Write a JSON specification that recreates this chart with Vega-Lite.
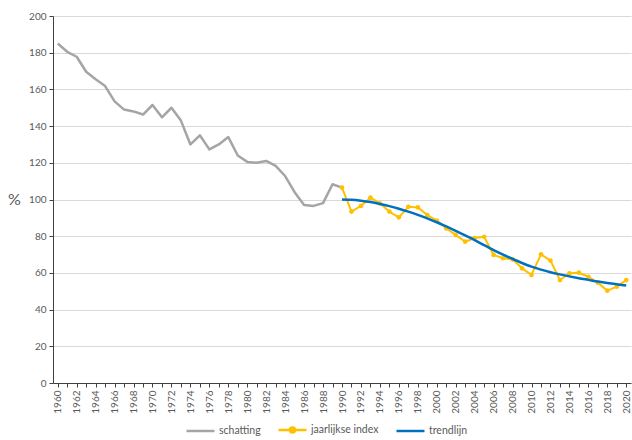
{
  "$schema": "https://vega.github.io/schema/vega-lite/v6.json",
  "width": 578,
  "height": 367,
  "autosize": "none",
  "padding": {"left": 53, "top": 16, "right": 1, "bottom": 57},
  "background": "white",
  "config": {
    "view": {"stroke": null},
    "font": "Lato",
    "axis": {"labelFont": "Lato", "titleFont": "Lato", "labelColor": "#595959", "titleColor": "#595959", "domainColor": "#404040", "tickColor": "#404040"}
  },
  "datasets": {
    "schatting": [
      {"jaar": 1960, "waarde": 185}, {"jaar": 1961, "waarde": 180.5}, {"jaar": 1962, "waarde": 177.8}, {"jaar": 1963, "waarde": 169.6},
      {"jaar": 1964, "waarde": 165.5}, {"jaar": 1965, "waarde": 161.8}, {"jaar": 1966, "waarde": 153.5}, {"jaar": 1967, "waarde": 149},
      {"jaar": 1968, "waarde": 148}, {"jaar": 1969, "waarde": 146.3}, {"jaar": 1970, "waarde": 151.5}, {"jaar": 1971, "waarde": 144.8},
      {"jaar": 1972, "waarde": 150}, {"jaar": 1973, "waarde": 143}, {"jaar": 1974, "waarde": 130}, {"jaar": 1975, "waarde": 135},
      {"jaar": 1976, "waarde": 127.3}, {"jaar": 1977, "waarde": 130}, {"jaar": 1978, "waarde": 134}, {"jaar": 1979, "waarde": 124},
      {"jaar": 1980, "waarde": 120.5}, {"jaar": 1981, "waarde": 120}, {"jaar": 1982, "waarde": 121}, {"jaar": 1983, "waarde": 118.3},
      {"jaar": 1984, "waarde": 112.8}, {"jaar": 1985, "waarde": 104}, {"jaar": 1986, "waarde": 97}, {"jaar": 1987, "waarde": 96.5},
      {"jaar": 1988, "waarde": 98}, {"jaar": 1989, "waarde": 108.3}, {"jaar": 1990, "waarde": 106.5}
    ],
    "index": [
      {"jaar": 1990, "waarde": 106.5}, {"jaar": 1991, "waarde": 93.4}, {"jaar": 1992, "waarde": 96.5}, {"jaar": 1993, "waarde": 101},
      {"jaar": 1994, "waarde": 97.9}, {"jaar": 1995, "waarde": 93.4}, {"jaar": 1996, "waarde": 90.3}, {"jaar": 1997, "waarde": 96},
      {"jaar": 1998, "waarde": 95.7}, {"jaar": 1999, "waarde": 91.5}, {"jaar": 2000, "waarde": 88.5}, {"jaar": 2001, "waarde": 84.3},
      {"jaar": 2002, "waarde": 80.7}, {"jaar": 2003, "waarde": 77}, {"jaar": 2004, "waarde": 79}, {"jaar": 2005, "waarde": 79.7},
      {"jaar": 2006, "waarde": 69.8}, {"jaar": 2007, "waarde": 68}, {"jaar": 2008, "waarde": 67.4}, {"jaar": 2009, "waarde": 62.5},
      {"jaar": 2010, "waarde": 58.9}, {"jaar": 2011, "waarde": 70.1}, {"jaar": 2012, "waarde": 66.7}, {"jaar": 2013, "waarde": 56.1},
      {"jaar": 2014, "waarde": 59.8}, {"jaar": 2015, "waarde": 60.1}, {"jaar": 2016, "waarde": 57.9}, {"jaar": 2017, "waarde": 54.7},
      {"jaar": 2018, "waarde": 50.3}, {"jaar": 2019, "waarde": 52.5}, {"jaar": 2020, "waarde": 56.1}
    ],
    "trend": [
      {"jaar": 1990, "waarde": 100}, {"jaar": 1991, "waarde": 99.8}, {"jaar": 1992, "waarde": 99.3}, {"jaar": 1993, "waarde": 98.6},
      {"jaar": 1994, "waarde": 97.6}, {"jaar": 1995, "waarde": 96.4}, {"jaar": 1996, "waarde": 95}, {"jaar": 1997, "waarde": 93.4},
      {"jaar": 1998, "waarde": 91.6}, {"jaar": 1999, "waarde": 89.7}, {"jaar": 2000, "waarde": 87.6}, {"jaar": 2001, "waarde": 85.3},
      {"jaar": 2002, "waarde": 82.9}, {"jaar": 2003, "waarde": 80.4}, {"jaar": 2004, "waarde": 77.9}, {"jaar": 2005, "waarde": 75.1},
      {"jaar": 2006, "waarde": 72.4}, {"jaar": 2007, "waarde": 69.9}, {"jaar": 2008, "waarde": 67.6}, {"jaar": 2009, "waarde": 65.4},
      {"jaar": 2010, "waarde": 63.4}, {"jaar": 2011, "waarde": 61.8}, {"jaar": 2012, "waarde": 60.4}, {"jaar": 2013, "waarde": 59.2},
      {"jaar": 2014, "waarde": 58.1}, {"jaar": 2015, "waarde": 57.1}, {"jaar": 2016, "waarde": 56.2}, {"jaar": 2017, "waarde": 55.3},
      {"jaar": 2018, "waarde": 54.5}, {"jaar": 2019, "waarde": 53.8}, {"jaar": 2020, "waarde": 53.1}
    ]
  },
  "encoding": {
    "x": {
      "field": "jaar", "type": "quantitative",
      "scale": {"domain": [1959.5, 2020.5], "nice": false, "zero": false},
      "axis": {
        "title": null, "grid": false,
        "values": [1960,1961,1962,1963,1964,1965,1966,1967,1968,1969,1970,1971,1972,1973,1974,1975,1976,1977,1978,1979,1980,1981,1982,1983,1984,1985,1986,1987,1988,1989,1990,1991,1992,1993,1994,1995,1996,1997,1998,1999,2000,2001,2002,2003,2004,2005,2006,2007,2008,2009,2010,2011,2012,2013,2014,2015,2016,2017,2018,2019,2020],
        "labelExpr": "datum.value % 2 == 0 ? datum.value : ''",
        "labelAngle": -90, "labelAlign": "right", "labelBaseline": "middle",
        "labelFontSize": 10, "labelPadding": 3, "tickSize": 4, "labelOverlap": false, "labelFlush": false
      }
    },
    "y": {
      "field": "waarde", "type": "quantitative",
      "scale": {"domain": [0, 200], "nice": false},
      "axis": {
        "values": [0,20,40,60,80,100,120,140,160,180,200],
        "title": "%", "titleAngle": 0, "titleX": -39, "titleY": 183.5, "titleAlign": "center", "titleBaseline": "middle",
        "titleFontSize": 16, "titleFontWeight": "normal",
        "labelFontSize": 10, "labelPadding": 3, "tickSize": 4,
        "gridColor": "#d9d9d9", "gridWidth": 1
      }
    },
    "color": {
      "field": "reeks", "type": "nominal",
      "scale": {"domain": ["schatting", "jaarlijkse index", "trendlijn"], "range": ["#a5a5a5", "#ffc000", "#0070c0"]},
      "legend": {
        "title": null, "orient": "none", "direction": "horizontal", "legendX": 132, "legendY": 398,
        "symbolType": "stroke", "symbolSize": 784, "symbolStrokeWidth": 2.5,
        "labelFont": "Lato", "labelFontSize": 10.5, "labelColor": "#595959", "labelOffset": 3, "columnPadding": 12,
        "encode": {
          "symbols": {
            "update": {
              "shape": {"signal": "datum.value == 'jaarlijkse index' ? 'M-1,0H1M-0.18,0A0.18,0.18 0 1,0 0.18,0A0.18,0.18 0 1,0 -0.18,0' : 'stroke'"},
              "fill": {"signal": "datum.value == 'jaarlijkse index' ? '#ffc000' : 'transparent'"}
            }
          }
        }
      }
    }
  },
  "layer": [
    {
      "data": {"name": "schatting"},
      "transform": [{"calculate": "'schatting'", "as": "reeks"}],
      "mark": {"type": "line", "strokeWidth": 2.5, "strokeJoin": "round"}
    },
    {
      "data": {"name": "index"},
      "transform": [{"calculate": "'jaarlijkse index'", "as": "reeks"}],
      "mark": {"type": "line", "strokeWidth": 2, "strokeJoin": "round", "point": {"filled": true, "size": 22, "color": "#ffc000"}}
    },
    {
      "data": {"name": "trend"},
      "transform": [{"calculate": "'trendlijn'", "as": "reeks"}],
      "mark": {"type": "line", "strokeWidth": 2.5, "interpolate": "monotone"}
    }
  ]
}
